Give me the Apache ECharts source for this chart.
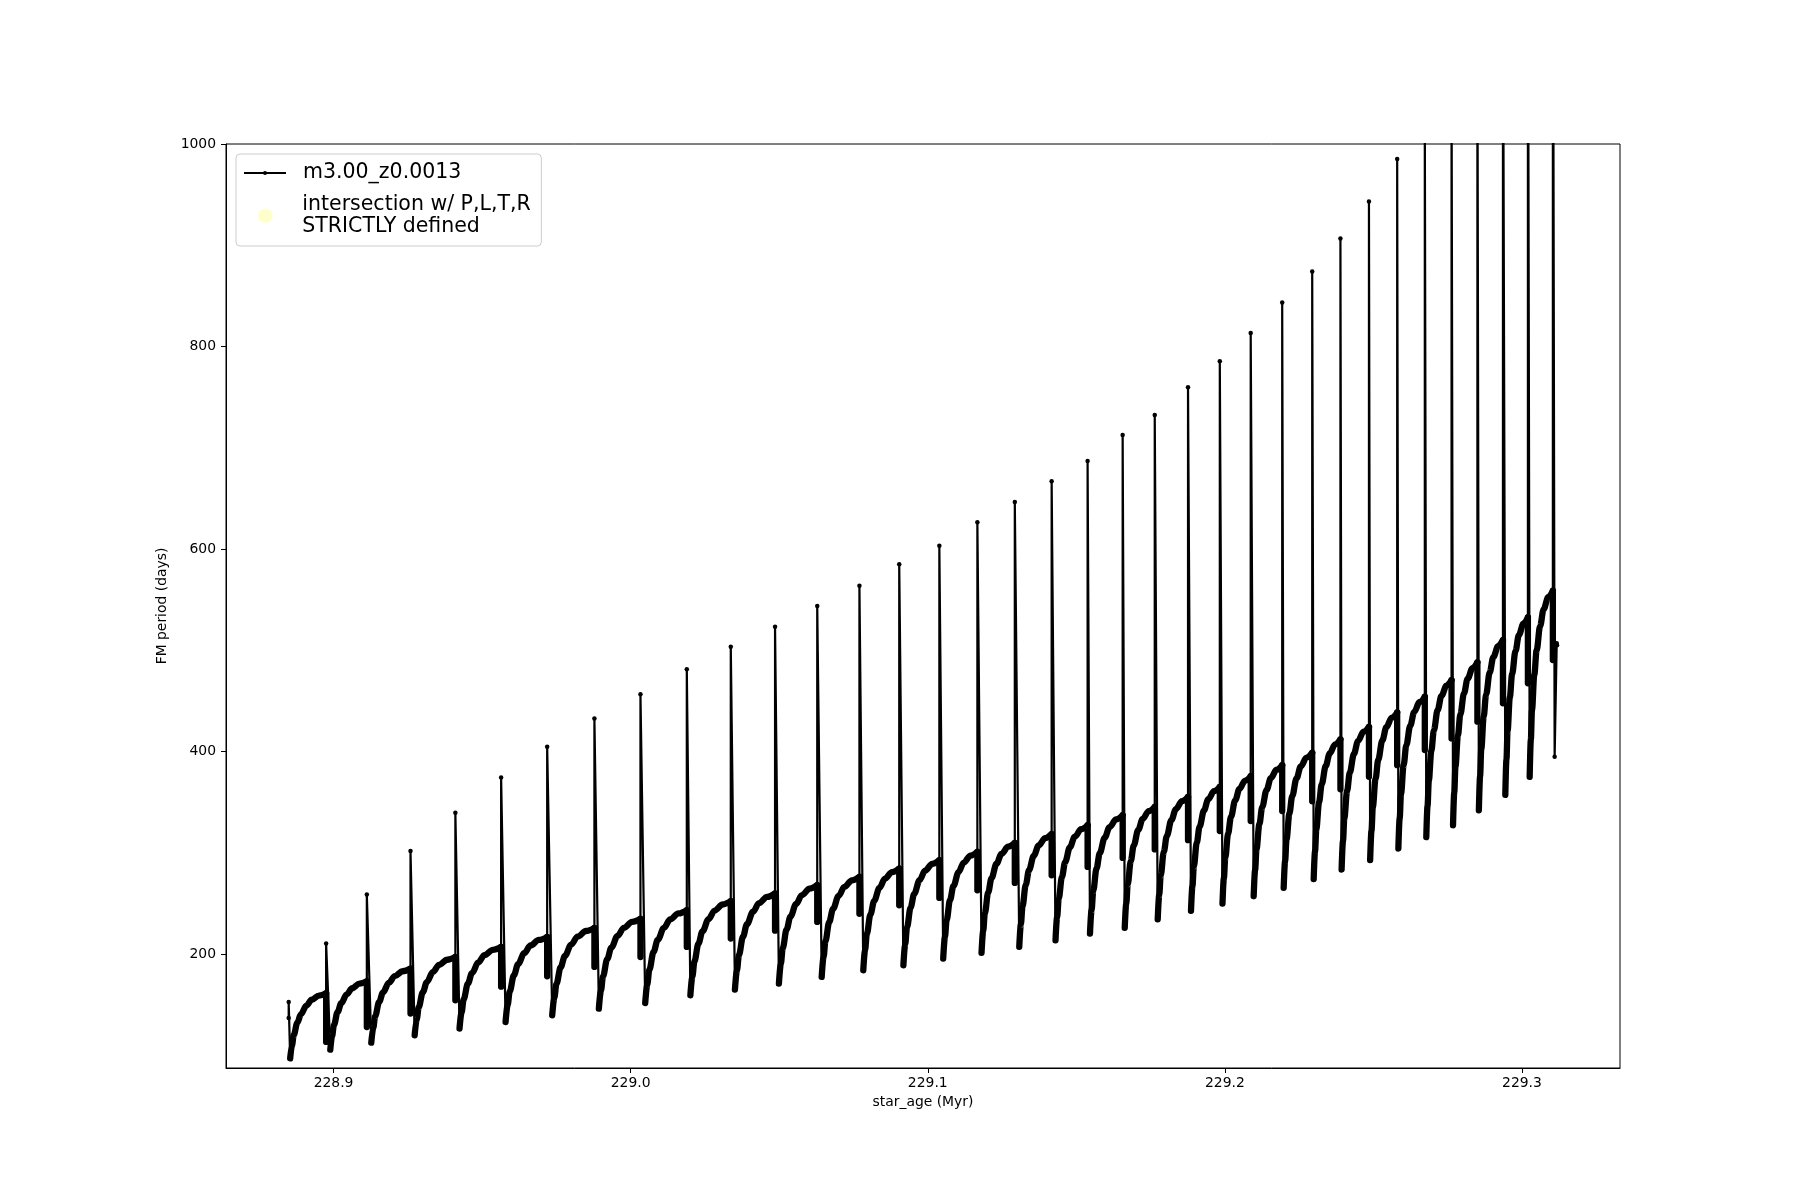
<!DOCTYPE html>
<html>
<head>
<meta charset="utf-8">
<script src="https://cdn.jsdelivr.net/npm/echarts@6/dist/echarts.min.js"></script>
<style>
html,body{margin:0;padding:0;background:#ffffff;}
#chart{width:1800px;height:1200px;}
</style>
</head>
<body>
<div id="chart"></div>
<script>
// ---------------- data ----------------
const seriesName = 'm3.00_z0.0013';
const markerName = 'intersection w/ P,L,T,R\nSTRICTLY defined';
const xTickLabels = [228.9, 229.0, 229.1, 229.2, 229.3];
const yTickLabels = [200, 400, 600, 800, 1000];

// age (Myr) of each pulse spike
const pulseAge = [228.8849, 228.8975, 228.9112, 228.9259, 228.9410, 228.9564, 228.9719, 228.9878,
  229.0033, 229.0189, 229.0337, 229.0486, 229.0628, 229.0770, 229.0904, 229.1039, 229.1167, 229.1293,
  229.1417, 229.1538, 229.1656, 229.1764, 229.1876, 229.1983, 229.2087, 229.2193, 229.2294, 229.2389,
  229.2485, 229.2580, 229.2673, 229.2763, 229.2850, 229.2936, 229.3020, 229.3104];
// period (days) at the end of the recovery, right before each pulse
const plateauBefore = [137, 161.5, 173.3, 185.8, 197.3, 207.2, 217.1, 226, 235, 243.5, 252.4, 260,
  268.2, 276.4, 284.6, 292.8, 301.1, 310, 318.6, 327.4, 337.3, 345.6, 355.4, 365.3, 375.8, 386.7,
  398.9, 412.1, 424.6, 438.8, 454.3, 470.7, 488.2, 510.2, 532.6, 558.9];
// level of the first drop at each pulse
const dropLevel = [137, 113.4, 128.2, 141.4, 154.5, 168, 178.3, 187.5, 197.3, 207.2, 215.5, 223.3,
  231.9, 240, 248.4, 255.6, 263.2, 270.4, 278, 286.2, 295.1, 303.5, 312.6, 321.6, 331.5, 341.4,
  351, 362.8, 375.2, 386.7, 401.6, 413.1, 429.6, 447.8, 467.5, 490.5];
// top of each spike (last ones run off the top of the axes)
const peakPeriod = [152.9, 210.6, 259, 302, 339.6, 374.6, 404.8, 432.8, 456.6, 481.3, 503.6, 523.4,
  543.8, 563.9, 585, 603.4, 626.5, 646.5, 667, 687, 712.8, 732.5, 759.9, 785.5, 813.3, 843.5,
  874.1, 906.7, 943.3, 985.2, 1030, 1080, 1130, 1190, 1250, 1310];
// age and period of the minimum after each spike
const minAge = [228.8854, 228.8989, 228.9127, 228.9273, 228.9424, 228.9579, 228.9736, 228.9893,
  229.0049, 229.0201, 229.0351, 229.0499, 229.0643, 229.0783, 229.0918, 229.1052, 229.1181, 229.1308,
  229.1430, 229.1546, 229.1663, 229.1774, 229.1886, 229.1992, 229.2097, 229.2198, 229.2299, 229.2393,
  229.2489, 229.2584, 229.2678, 229.2768, 229.2855, 229.2944, 229.3026, 229.3110];
const minPeriod = [97.2, 105.8, 112.7, 120, 126.6, 133.1, 139.7, 146.3, 151.8, 159.5, 165.1, 171,
  177.6, 184.2, 189.1, 195.7, 201.3, 207.2, 213.8, 220.4, 226, 234.4, 242.8, 250.1, 257.3, 265.5,
  274.1, 283.7, 292.9, 304.4, 315.6, 327.4, 342.2, 357.4, 375.2, 395];
// last model of the track
const endAge = [229.3117, 229.3118];
const endPeriod = [507, 505];
// recovery-curve shape (fraction of interval, fraction of rise)
const recoveryFrac = [0, 0.05, 0.1, 0.2, 0.3, 0.45, 0.6, 0.8, 1.0];
const recoveryRise = [0, 0.2, 0.36, 0.55, 0.68, 0.81, 0.9, 0.965, 1.0];

// ---------------- build series data ----------------
const GAP = [null, null];
const spikeData = [];
const dropData = [];
const recoveryData = [];
for (let i = 0; i < pulseAge.length; i++) {
  spikeData.push([pulseAge[i], dropLevel[i]], [pulseAge[i], peakPeriod[i]], [minAge[i], minPeriod[i]]);
  if (i === pulseAge.length - 1) {
    for (let k = 0; k < endAge.length; k++) spikeData.push([endAge[k], endPeriod[k]]);
  }
  spikeData.push(GAP);
  if (i > 0) {
    dropData.push([pulseAge[i], plateauBefore[i]], [pulseAge[i], dropLevel[i]], GAP);
  }
  if (i < pulseAge.length - 1) {
    const t0 = minAge[i], t1 = pulseAge[i + 1];
    const v0 = minPeriod[i], v1 = plateauBefore[i + 1];
    for (let k = 0; k < recoveryFrac.length; k++) {
      recoveryData.push([t0 + recoveryFrac[k] * (t1 - t0), v0 + recoveryRise[k] * (v1 - v0)]);
    }
    recoveryData.push(GAP);
  }
}

const FONT = 'DejaVu Sans';
const chart = echarts.init(document.getElementById('chart'), null, {renderer: 'canvas'});
chart.setOption({
  animation: false,
  backgroundColor: '#ffffff',
  grid: {
    left: 226, right: 180, top: 144, bottom: 132,
    show: true, borderColor: '#000000', borderWidth: 1, backgroundColor: 'transparent',
    containLabel: false, outerBoundsMode: 'none'
  },
  legend: [
    {
      data: [seriesName], orient: 'vertical', left: 236, top: 154,
      itemWidth: 42, itemHeight: 5, padding: [7, 80, 61, 7],
      borderColor: '#cccccc', borderWidth: 1, borderRadius: 4,
      backgroundColor: 'rgba(255,255,255,0.8)', selectedMode: false,
      textStyle: {fontFamily: FONT, fontSize: 20.5, color: '#000000', lineHeight: 24, padding: [0, 0, 0, 12]}
    },
    {
      data: [markerName], orient: 'vertical', left: 258, top: 193,
      itemWidth: 42, itemHeight: 14.6, padding: 0, selectedMode: false,
      textStyle: {fontFamily: FONT, fontSize: 20.5, color: '#000000', lineHeight: 22.7, padding: [0, 0, 0, 11]}
    }
  ],
  xAxis: {
    type: 'value', min: 228.8638, max: 229.3330,
    name: 'star_age (Myr)', nameLocation: 'middle', nameGap: 27,
    nameTextStyle: {fontFamily: FONT, fontSize: 13.9, color: '#000000'},
    axisLine: {show: true, lineStyle: {color: '#000000', width: 1}},
    axisTick: {show: true, customValues: xTickLabels, length: 5, lineStyle: {color: '#000000', width: 1}},
    axisLabel: {customValues: xTickLabels, formatter: v => Number(v).toFixed(1),
      fontFamily: FONT, fontSize: 13.9, color: '#000000', margin: 8},
    splitLine: {show: false}
  },
  yAxis: {
    type: 'value', min: 87.7, max: 1000,
    name: 'FM period (days)', nameLocation: 'middle', nameGap: 49, nameRotate: 90,
    nameTextStyle: {fontFamily: FONT, fontSize: 13.9, color: '#000000'},
    axisLine: {show: true, lineStyle: {color: '#000000', width: 1}},
    axisTick: {show: true, customValues: yTickLabels, length: 5, lineStyle: {color: '#000000', width: 1}},
    axisLabel: {customValues: yTickLabels, formatter: v => String(Math.round(v)),
      fontFamily: FONT, fontSize: 13.9, color: '#000000', margin: 10},
    splitLine: {show: false}
  },
  series: [
    {
      name: seriesName, type: 'line', data: spikeData, connectNulls: false,
      symbol: 'circle', symbolSize: 4.5, showSymbol: true, clip: true,
      lineStyle: {color: '#000000', width: 2.2}, itemStyle: {color: '#000000'},
      emphasis: {disabled: true}, z: 3
    },
    {
      name: seriesName, type: 'line', data: recoveryData, connectNulls: false,
      showSymbol: false, symbol: 'none', smooth: 0.35, smoothMonotone: 'x', clip: true,
      lineStyle: {color: '#000000', width: 6.3, cap: 'round', join: 'round'}, itemStyle: {color: '#000000'},
      emphasis: {disabled: true}, z: 2
    },
    {
      name: seriesName, type: 'line', data: dropData, connectNulls: false,
      showSymbol: false, symbol: 'none', clip: true,
      lineStyle: {color: '#000000', width: 6.3, cap: 'round'}, itemStyle: {color: '#000000'},
      emphasis: {disabled: true}, z: 2
    },
    {
      name: markerName, type: 'scatter', data: [],
      symbol: 'circle', itemStyle: {color: '#ffffbf'}
    }
  ]
});
</script>
</body>
</html>
